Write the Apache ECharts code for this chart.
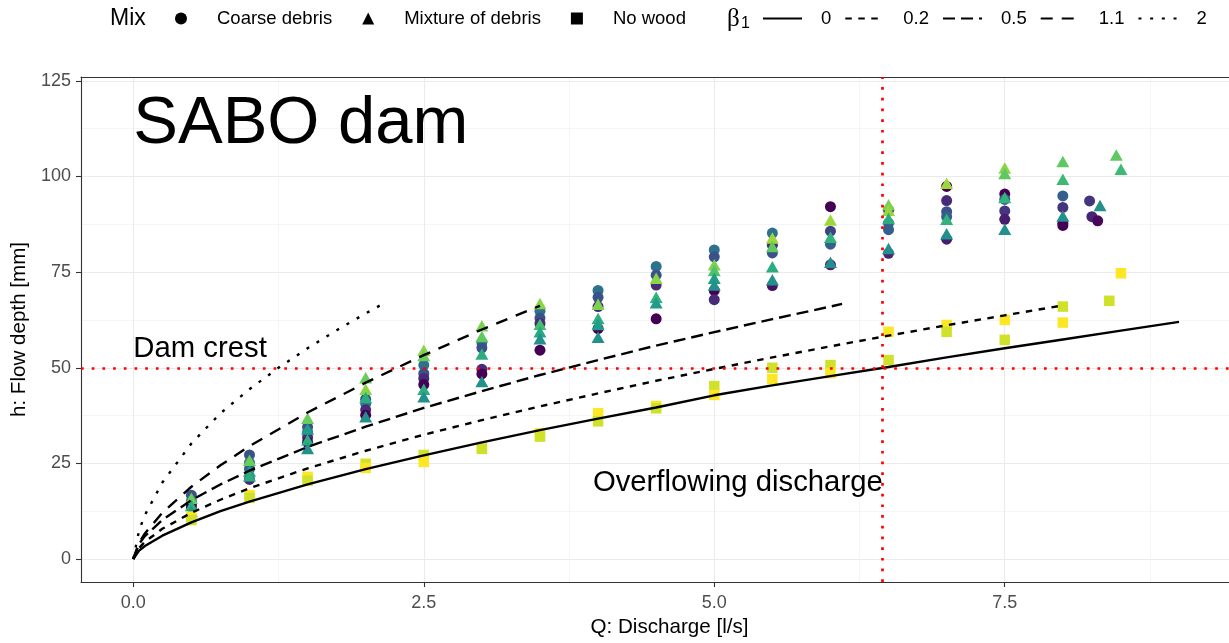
<!DOCTYPE html>
<html>
<head>
<meta charset="utf-8">
<title>SABO dam</title>
<script src="https://cdn.jsdelivr.net/npm/echarts@6/dist/echarts.min.js"></script>
<style>
  html, body { margin: 0; padding: 0; background: #fff; }
  #chart { width: 1229px; height: 643px; }
</style>
</head>
<body>
<div id="chart"></div>
<script>
// axis ticks
const xTicks = [0, 2.5, 5, 7.5];
const xMinorTicks = [1.25, 3.75, 6.25, 8.75];
const yTicks = [0, 25, 50, 75, 100, 125];
const yMinorTicks = [12.5, 37.5, 62.5, 87.5, 112.5];

// measured points: [Q (l/s), h (mm), colour level 0..1]
const coarseDebris = [
  [0.5, 16.7, 0.25], [0.5, 15.2, 0.37], [0.5, 14.3, 0.12], [0.5, 13.6, 0],
  [1, 27.2, 0.25], [1, 25.2, 0.37], [1, 23.6, 0.3], [1, 20.8, 0.12],
  [1.5, 34.5, 0.25], [1.5, 33.2, 0.37], [1.5, 31.8, 0.12], [1.5, 30.5, 0],
  [2, 41.8, 0.25], [2, 40.6, 0.37], [2, 39.0, 0.12], [2, 37.6, 0],
  [2.5, 50.7, 0.37], [2.5, 48.5, 0.25], [2.5, 47.2, 0.12], [2.5, 45.6, 0],
  [3, 56.6, 0.37], [3, 55.2, 0.25], [3, 49.6, 0.12], [3, 48.4, 0],
  [3.5, 64.8, 0.37], [3.5, 63.0, 0.25], [3.5, 61.6, 0.12], [3.5, 54.6, 0],
  [4, 70.2, 0.37], [4, 68.4, 0.25], [4, 66.0, 0.12], [4, 60.2, 0],
  [4.5, 76.5, 0.37], [4.5, 74.2, 0.25], [4.5, 71.6, 0.12], [4.5, 62.8, 0],
  [5, 80.8, 0.37], [5, 79.0, 0.25], [5, 70.2, 0], [5, 67.8, 0.12],
  [5.5, 85.2, 0.37], [5.5, 82.0, 0.12], [5.5, 80.0, 0.25], [5.5, 71.5, 0.05],
  [6, 92.1, 0], [6, 85.7, 0.2], [6, 82.3, 0.3], [6, 76.9, 0.1],
  [6.5, 91.2, 0.05], [6.5, 87.8, 0.25], [6.5, 86.1, 0.3], [6.5, 79.9, 0.1],
  [7, 97.4, 0], [7, 93.7, 0.12], [7, 90.8, 0.25], [7, 89.5, 0.3], [7, 83.6, 0.08],
  [7.5, 95.4, 0], [7.5, 94.0, 0.3], [7.5, 91.0, 0.15], [7.5, 88.8, 0.08],
  [8, 94.9, 0.3], [8, 91.9, 0.15], [8, 87.8, 0.05], [8, 87.2, 0],
  [8.23, 93.6, 0.15], [8.25, 89.5, 0.1], [8.3, 88.4, 0.02]
];
const mixtureOfDebris = [
  [0.5, 15.9, 0.77], [0.5, 14.0, 0.62], [0.5, 12.4, 0.5],
  [1, 25.8, 0.77], [1, 23.0, 0.55], [1, 21.8, 0.62],
  [1.5, 36.8, 0.77], [1.5, 34.0, 0.55], [1.5, 31.2, 0.62], [1.5, 28.9, 0.5],
  [2, 47.4, 0.77], [2, 44.4, 0.82], [2, 42.2, 0.62], [2, 37.2, 0.5],
  [2.5, 54.6, 0.82], [2.5, 53.2, 0.77], [2.5, 44.4, 0.62], [2.5, 42.4, 0.5],
  [3, 61.0, 0.8], [3, 58.2, 0.75], [3, 53.6, 0.62], [3, 46.4, 0.5],
  [3.5, 66.8, 0.82], [3.5, 61.4, 0.7], [3.5, 59.4, 0.6], [3.5, 57.6, 0.5],
  [4, 66.6, 0.8], [4, 62.9, 0.62], [4, 61.3, 0.55], [4, 58.0, 0.5],
  [4.5, 73.4, 0.82], [4.5, 68.4, 0.65], [4.5, 67.0, 0.55],
  [5, 76.9, 0.8], [5, 75.4, 0.72], [5, 73.4, 0.55], [5, 71.6, 0.5],
  [5.5, 83.9, 0.85], [5.5, 81.7, 0.75], [5.5, 76.4, 0.62], [5.5, 73.0, 0.5],
  [6, 88.6, 0.85], [6, 84.1, 0.65], [6, 77.6, 0.5],
  [6.5, 92.6, 0.8], [6.5, 91.2, 0.84], [6.5, 89.0, 0.62], [6.5, 81.2, 0.5],
  [7, 98.2, 0.85], [7, 88.8, 0.65], [7, 85.0, 0.5],
  [7.5, 102.2, 0.82], [7.5, 100.8, 0.75], [7.5, 94.5, 0.65], [7.5, 86.2, 0.5],
  [8, 103.9, 0.75], [8, 99.3, 0.68], [8, 89.7, 0.5],
  [8.32, 92.4, 0.5], [8.46, 105.6, 0.75], [8.5, 101.9, 0.68]
];
const noWood = [
  [0.5, 11.1, 1], [0.5, 10.2, 0.93],
  [1, 16.7, 1], [1, 16.0, 0.93],
  [1.5, 21.5, 1], [1.5, 20.5, 0.93],
  [2, 24.9, 0.93], [2, 23.8, 1],
  [2.5, 27.2, 0.93], [2.5, 25.4, 1],
  [3, 29.3, 1], [3, 28.8, 0.93],
  [3.5, 32.9, 1], [3.5, 32.0, 0.93],
  [4, 38.1, 1], [4, 36.0, 0.93],
  [4.5, 40.0, 1], [4.5, 39.4, 0.93],
  [5, 45.2, 0.93], [5, 42.9, 1],
  [5.5, 50.0, 0.93], [5.5, 47.0, 1],
  [6, 50.7, 0.93], [6, 48.6, 1],
  [6.5, 59.4, 1], [6.5, 52.0, 0.93],
  [7, 61.2, 1], [7, 59.4, 0.93],
  [7.5, 62.5, 1], [7.5, 57.3, 0.93],
  [8, 66.0, 0.93], [8, 61.8, 1],
  [8.4, 67.5, 0.93], [8.5, 74.7, 1]
];

// model curves: [Q, h]
const beta0 = [[0, 0], [0.05, 2.2], [0.1, 3.4], [0.25, 6.1], [0.5, 9.6], [0.75, 12.5], [1, 15], [1.5, 19.5],
  [2, 23.5], [2.5, 27.1], [3, 30.5], [3.5, 33.7], [4, 36.7], [4.5, 39.6], [5, 42.8], [5.5, 45.4],
  [6, 47.8], [6.5, 50.2], [7, 52.7], [7.5, 55.1], [8, 57.4], [8.5, 59.7], [9, 62]];
const beta02 = [[0, 0], [0.05, 2.9], [0.1, 4.5], [0.25, 7.9], [0.5, 12.1], [0.75, 15.5], [1, 18.5], [1.5, 23.7],
  [2, 28.3], [2.5, 32.5], [3, 36.3], [3.5, 39.9], [4, 43.3], [4.5, 46.6], [5, 49.7], [5.5, 52.7],
  [6, 55.6], [6.5, 58.4], [7, 61.1], [7.5, 63.7], [8, 66.3]];
const beta05 = [[0, 0], [0.05, 4.0], [0.1, 6.0], [0.25, 10.2], [0.5, 15.4], [0.75, 19.5], [1, 23.1], [1.5, 29.3],
  [2, 34.6], [2.5, 39.5], [3, 43.9], [3.5, 48.1], [4, 52.0], [4.5, 55.8], [5, 59.3], [5.5, 62.7],
  [6, 66.0], [6.1, 66.7]];
const beta11 = [[0, 0], [0.05, 4.3], [0.1, 6.7], [0.25, 12.1], [0.5, 18.9], [0.75, 24.5], [1, 29.5], [1.5, 38.3],
  [2, 46.1], [2.5, 53.3], [3, 60.0], [3.5, 66.2]];
const beta2 = [[0, 0], [0.05, 7.5], [0.1, 11.5], [0.25, 20.0], [0.5, 30.2], [0.75, 38.1], [1, 44.4], [1.25, 50.0],
  [1.5, 55.1], [1.75, 59.8], [2, 64.2], [2.13, 66.4]];
const betaNames = ['0', '0.2', '0.5', '1.1', '2'];
const betaCurves = [beta0, beta02, beta05, beta11, beta2];

// reference lines and notes
const damCrest = 50;
const overflowQ = 6.45;
const noteText = ['SABO dam', 'Dam crest', 'Overflowing discharge'];
const noteQ = [0, 0, 6.45];
const noteH = [113.6, 54.9, 19.8];

const FONT = '"Liberation Sans", Arial, sans-serif';
const viridis = ['#440154', '#482878', '#3e4989', '#31688e', '#26828e', '#1f9e89', '#35b779', '#6ece58', '#b5de2b', '#fde725'];
const dashes = ['solid', [6.5, 6.5], [12, 6], [12, 9], [3, 8.7]];
const noteStyle = [
  { size: 67, side: 'right' },
  { size: 29.3, side: 'right' },
  { size: 29.3, side: 'left' }
];
const xMin = -0.45, xMax = 9.43, yMin = -6, yMax = 126;

const chart = echarts.init(document.getElementById('chart'));

const pointSeries = [
  { name: 'Coarse debris', data: coarseDebris, symbol: 'circle', symbolSize: 11 },
  { name: 'Mixture of debris', data: mixtureOfDebris, symbol: 'triangle', symbolSize: [13, 11.5] },
  { name: 'No wood', data: noWood, symbol: 'rect', symbolSize: 10.5 }
].map(s => ({
  type: 'scatter',
  name: s.name,
  data: s.data,
  symbol: s.symbol,
  symbolSize: s.symbolSize,
  itemStyle: { color: '#000', opacity: 1 },
  z: 2,
  silent: true
}));

const curveSeries = betaCurves.map((c, i) => ({
  type: 'line',
  name: betaNames[i],
  data: c,
  symbol: 'none',
  showSymbol: false,
  lineStyle: { color: '#000', width: 2.4, type: dashes[i] },
  itemStyle: { color: '#000' },
  z: 3,
  silent: true
}));

const noteSeries = {
  type: 'scatter',
  name: 'notes',
  symbolSize: 0.01,
  itemStyle: { color: 'rgba(0,0,0,0)' },
  silent: true,
  z: 5,
  data: noteText.map((t, i) => ({
    value: [noteQ[i], noteH[i]],
    label: {
      show: true,
      formatter: t,
      position: noteStyle[i].side,
      distance: 0,
      fontSize: noteStyle[i].size,
      fontFamily: FONT,
      color: '#000',
      opacity: 1
    }
  })),
  markLine: {
    symbol: 'none',
    silent: true,
    label: { show: false },
    lineStyle: { color: '#FF0000', width: 2.7, type: [2.7, 8] },
    data: [{ xAxis: overflowQ }, { yAxis: damCrest }]
  }
};

const option = {
  animation: false,
  backgroundColor: '#fff',
  grid: { left: 81, right: 0, top: 77, bottom: 61, show: false },
  visualMap: {
    type: 'continuous',
    show: false,
    dimension: 2,
    min: 0,
    max: 1,
    seriesIndex: [0, 1, 2],
    inRange: { color: viridis }
  },
  legend: [
    {
      left: 175, top: 9, padding: 0,
      itemWidth: 12, itemHeight: 12, itemGap: 30,
      selectedMode: false,
      itemStyle: { color: '#000', borderWidth: 0 },
      textStyle: { fontSize: 18.5, fontFamily: FONT, color: '#000', padding: [0, 0, 0, 25] },
      data: [
        { name: 'Coarse debris', icon: 'circle' },
        { name: 'Mixture of debris', icon: 'triangle' },
        { name: 'No wood', icon: 'rect' }
      ]
    },
    {
      left: 762, top: 9, padding: 0,
      itemWidth: 39, itemHeight: 12, itemGap: 13,
      selectedMode: false,
      itemStyle: { color: 'rgba(0,0,0,0)', borderColor: 'rgba(0,0,0,0)', borderWidth: 0 },
      textStyle: { fontSize: 18.5, fontFamily: FONT, color: '#000', padding: [0, 0, 0, 14] },
      data: betaNames
    }
  ],
  graphic: [
    { type: 'text', x: 110, y: 19, style: { text: 'Mix', fontSize: 23, fontFamily: FONT, fill: '#000', verticalAlign: 'middle' } },
    { type: 'text', x: 727, y: 19, style: { text: 'β', fontSize: 25, fontFamily: '"Liberation Serif", serif', fill: '#000', verticalAlign: 'middle' } },
    { type: 'text', x: 741, y: 24, style: { text: '1', fontSize: 16, fontFamily: FONT, fill: '#000', verticalAlign: 'middle' } }
  ],
  xAxis: [
    {
      type: 'value', min: xMin, max: xMax,
      name: 'Q: Discharge [l/s]', nameLocation: 'middle', nameGap: 34,
      nameTextStyle: { fontSize: 20.6, fontFamily: FONT, color: '#000', padding: [0, 0, 0, 29] },
      axisLine: { show: true, onZero: false, lineStyle: { color: '#333', width: 1.1 } },
      axisTick: { show: true, length: 5, customValues: xTicks, lineStyle: { color: '#333', width: 1.1 } },
      axisLabel: { customValues: xTicks, formatter: v => v.toFixed(1), color: '#4D4D4D', fontSize: 18, fontFamily: FONT, margin: 12 },
      splitLine: { show: true, lineStyle: { color: '#EBEBEB', width: 1.1 } }
    },
    {
      type: 'value', min: xMin, max: xMax, position: 'top',
      axisLine: { show: true, onZero: false, lineStyle: { color: '#333', width: 1.1 } },
      axisTick: { show: false, customValues: xMinorTicks },
      axisLabel: { show: false, customValues: xMinorTicks },
      splitLine: { show: true, lineStyle: { color: '#F0F0F0', width: 0.7 } }
    }
  ],
  yAxis: [
    {
      type: 'value', min: yMin, max: yMax,
      name: 'h: Flow depth [mm]', nameLocation: 'middle', nameGap: 50,
      nameTextStyle: { fontSize: 20.6, fontFamily: FONT, color: '#000' },
      axisLine: { show: true, onZero: false, lineStyle: { color: '#333', width: 1.1 } },
      axisTick: { show: true, length: 5, customValues: yTicks, lineStyle: { color: '#333', width: 1.1 } },
      axisLabel: { customValues: yTicks, color: '#4D4D4D', fontSize: 18, fontFamily: FONT, margin: 10 },
      splitLine: { show: true, lineStyle: { color: '#EBEBEB', width: 1.1 } }
    },
    {
      type: 'value', min: yMin, max: yMax, position: 'right',
      axisLine: { show: false },
      axisTick: { show: false, customValues: yMinorTicks },
      axisLabel: { show: false, customValues: yMinorTicks },
      splitLine: { show: true, lineStyle: { color: '#F0F0F0', width: 0.7 } }
    }
  ],
  series: [...pointSeries, ...curveSeries, noteSeries]
};

chart.setOption(option);
</script>
</body>
</html>
